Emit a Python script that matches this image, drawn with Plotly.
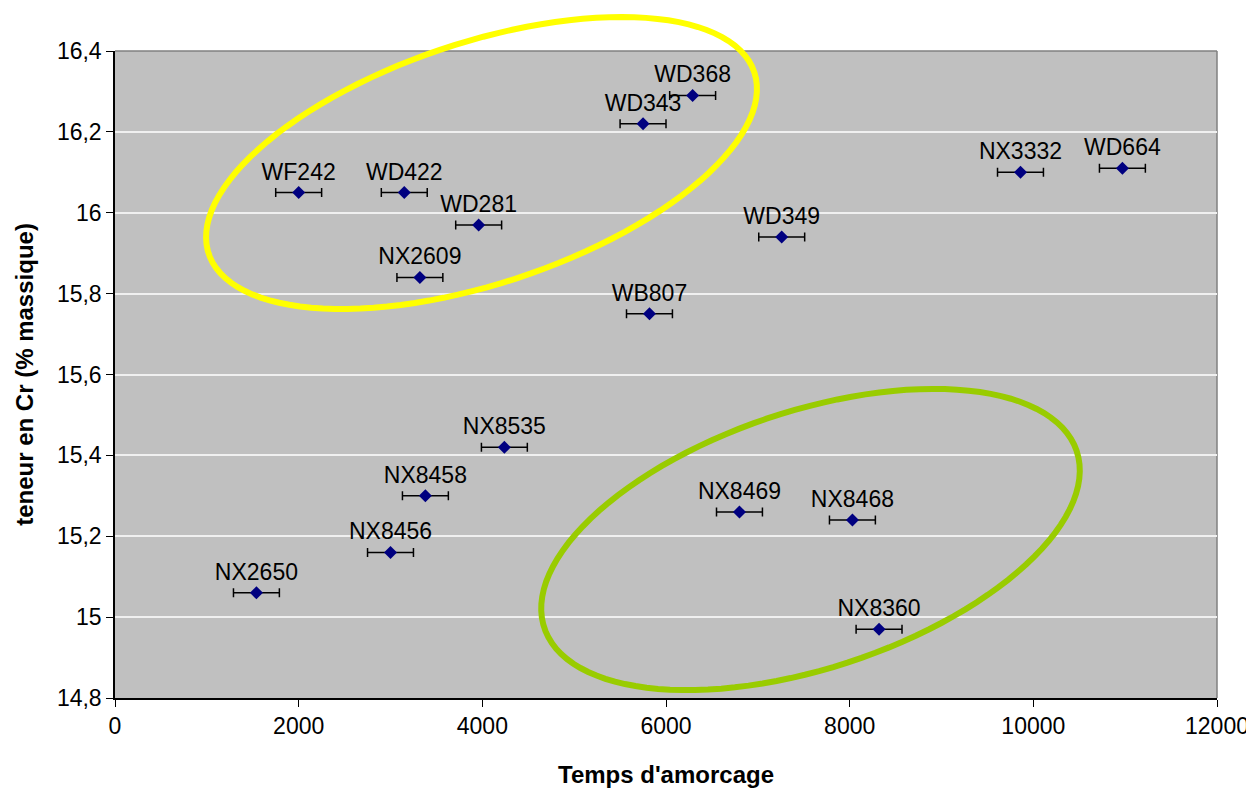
import numpy as np
import plotly.graph_objects as go

# ---- data ----
labels = ["WF242", "WD422", "WD281", "NX2609", "WD343", "WD368", "WB807", "WD349",
          "NX3332", "WD664", "NX8535", "NX8458", "NX8456", "NX2650", "NX8469",
          "NX8468", "NX8360"]
temps = [2000, 3150, 3960, 3320, 5750, 6290, 5820, 7260,
         9860, 10970, 4240, 3380, 3000, 1540, 6800,
         8030, 8320]
teneur = [16.05, 16.05, 15.97, 15.84, 16.22, 16.29, 15.75, 15.94,
          16.10, 16.11, 15.42, 15.30, 15.16, 15.06, 15.26,
          15.24, 14.97]
err_x = [250] * len(labels)

y_ticks = [14.8, 15.0, 15.2, 15.4, 15.6, 15.8, 16.0, 16.2, 16.4]
y_ticktext = ["14,8", "15", "15,2", "15,4", "15,6", "15,8", "16", "16,2", "16,4"]
x_ticks = [0, 2000, 4000, 6000, 8000, 10000, 12000]
x_ticktext = ["0", "2000", "4000", "6000", "8000", "10000", "12000"]

FONT = "Liberation Sans, Arial, sans-serif"

OFF = 8  # page body margin
W, H = 1254 - OFF, 789 - OFF
L, T = 115 - OFF, 51 - OFF
R, B = 37, 91
PW, PH = W - L - R, H - T - B

fig = go.Figure()
fig.add_trace(go.Scatter(
    x=temps, y=teneur, mode="markers+text", text=labels,
    textposition="top center",
    textfont=dict(family=FONT, size=23, color="black"),
    marker=dict(symbol="diamond", size=10, color="#000080"),
    error_x=dict(type="data", array=err_x, visible=True, color="black",
                 thickness=1.5, width=4.5),
    cliponaxis=False, showlegend=False,
))


def ellipse_path(cx, cy, a, b, ang_deg, n=120):
    # geometry given in screen pixels; converted to paper coords
    cx, cy = cx - OFF, cy - OFF
    t = np.linspace(0, 2 * np.pi, n)
    th = np.deg2rad(ang_deg)
    px = cx + a * np.cos(t) * np.cos(th) - b * np.sin(t) * np.sin(th)
    py = cy - (a * np.cos(t) * np.sin(th) + b * np.sin(t) * np.cos(th))
    xs = (px - L) / PW
    ys = (H - B - py) / PH
    d = "M " + " L ".join(f"{x:.5f},{y:.5f}" for x, y in zip(xs, ys)) + " Z"
    return d


fig.add_shape(type="path", xref="paper", yref="paper",
              path=ellipse_path(481.5, 163, 287.5, 120.5, 18.4),
              line=dict(color="#FFFF00", width=6))
fig.add_shape(type="path", xref="paper", yref="paper",
              path=ellipse_path(810.5, 539.5, 280.5, 128.5, 18.35),
              line=dict(color="#99CC00", width=6))

fig.update_layout(
    width=W, height=H,
    margin=dict(l=L, r=R, t=T, b=B, autoexpand=False),
    paper_bgcolor="white",
    plot_bgcolor="#C0C0C0",
    font=dict(family=FONT, size=23, color="black"),
    xaxis=dict(
        range=[0, 12000], tickvals=x_ticks, ticktext=x_ticktext,
        ticks="outside", ticklen=7,
        tickcolor="black", showgrid=False, zeroline=False,
        showline=True, linecolor="black", linewidth=1.5, mirror=False,
        tickfont=dict(size=23),
        title=dict(text="<b>Temps d'amorcage</b>", font=dict(size=24), standoff=28),
    ),
    yaxis=dict(
        range=[14.8, 16.4], tickvals=y_ticks, ticktext=y_ticktext,
        ticks="outside", ticklen=7, tickcolor="black",
        showgrid=True, gridcolor="#F0F0F0", gridwidth=1.5, zeroline=False,
        showline=True, linecolor="black", linewidth=1.5,
        tickfont=dict(size=23),
        title=dict(text="<b>teneur en Cr (% massique)</b>", font=dict(size=24), standoff=16),
    ),
)

# grey plot-area border on top and right
fig.add_shape(type="line", xref="paper", yref="paper", x0=0, x1=1, y0=1, y1=1,
              line=dict(color="#808080", width=1.5), layer="below")
fig.add_shape(type="line", xref="paper", yref="paper", x0=1, x1=1, y0=0, y1=1,
              line=dict(color="#808080", width=1.5), layer="below")

fig.write_html("out.html")
